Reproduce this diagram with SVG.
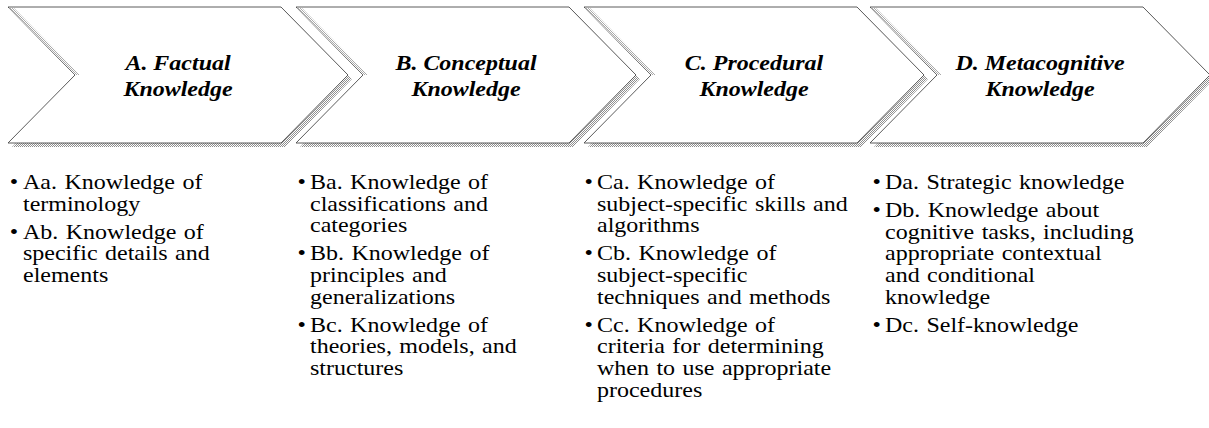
<svg xmlns="http://www.w3.org/2000/svg" width="1209" height="428" viewBox="0 0 1209 428">
<defs>
<pattern id="dither" width="2" height="2" patternUnits="userSpaceOnUse">
<rect width="2" height="2" fill="#ffffff"/>
<rect x="0" y="0" width="1" height="1" fill="#8e8e8e"/>
<rect x="1" y="1" width="1" height="1" fill="#8e8e8e"/>
</pattern>
<polygon id="chev" points="0,7 273,7 340,75 273,143 0,143 67,75"/>
<polygon id="band" points="1,8 67,75 72,75 6,8"/>
</defs>
<style>
.shadow{fill:url(#dither);}
.body{fill:#ffffff;stroke:#4a4a4a;stroke-width:0.9;}
.band{fill:url(#dither);opacity:0.75;}
.title{font-family:'Liberation Serif','Times New Roman',Times,serif;font-size:22px;font-weight:bold;font-style:italic;fill:#000;text-anchor:middle;}
.item{font-family:'Liberation Serif','Times New Roman',Times,serif;font-size:20px;fill:#000;word-spacing:1.2px;}
.bul{font-family:'Liberation Serif','Times New Roman',Times,serif;font-size:20px;fill:#000;text-anchor:middle;}
</style>
<g id="connectors"></g>
<g id="nodeA">
<use href="#chev" x="12" y="4" class="shadow"/>
<use href="#chev" x="8" y="0" class="body"/>
<use href="#band" x="8" y="0" class="band"/>
<g transform="translate(178,0) scale(1.09,1)">
<text class="title" x="0" y="70">A. Factual</text>
<text class="title" x="0" y="96">Knowledge</text>
</g>
</g>
<g id="nodeB">
<use href="#chev" x="300" y="4" class="shadow"/>
<use href="#chev" x="296" y="0" class="body"/>
<use href="#band" x="296" y="0" class="band"/>
<g transform="translate(466,0) scale(1.09,1)">
<text class="title" x="0" y="70">B. Conceptual</text>
<text class="title" x="0" y="96">Knowledge</text>
</g>
</g>
<g id="nodeC">
<use href="#chev" x="588" y="4" class="shadow"/>
<use href="#chev" x="584" y="0" class="body"/>
<use href="#band" x="584" y="0" class="band"/>
<g transform="translate(754,0) scale(1.09,1)">
<text class="title" x="0" y="70">C. Procedural</text>
<text class="title" x="0" y="96">Knowledge</text>
</g>
</g>
<g id="nodeD">
<use href="#chev" x="874" y="4" class="shadow"/>
<use href="#chev" x="870" y="0" class="body"/>
<use href="#band" x="870" y="0" class="band"/>
<g transform="translate(1040,0) scale(1.09,1)">
<text class="title" x="0" y="70">D. Metacognitive</text>
<text class="title" x="0" y="96">Knowledge</text>
</g>
</g>
<g id="listA" transform="translate(23,0) scale(1.2,1)">
<text class="bul" x="-7.5" y="189">•</text>
<text class="item" x="0" y="189">Aa. Knowledge of</text>
<text class="item" x="0" y="210.6">terminology</text>
<text class="bul" x="-7.5" y="238.8">•</text>
<text class="item" x="0" y="238.8">Ab. Knowledge of</text>
<text class="item" x="0" y="260.4">specific details and</text>
<text class="item" x="0" y="282">elements</text>
</g>
<g id="listB" transform="translate(310,0) scale(1.2,1)">
<text class="bul" x="-7" y="189">•</text>
<text class="item" x="0" y="189">Ba. Knowledge of</text>
<text class="item" x="0" y="210.6">classifications and</text>
<text class="item" x="0" y="232.2">categories</text>
<text class="bul" x="-7" y="260.4">•</text>
<text class="item" x="0" y="260.4">Bb. Knowledge of</text>
<text class="item" x="0" y="282">principles and</text>
<text class="item" x="0" y="303.6">generalizations</text>
<text class="bul" x="-7" y="331.8">•</text>
<text class="item" x="0" y="331.8">Bc. Knowledge of</text>
<text class="item" x="0" y="353.4">theories, models, and</text>
<text class="item" x="0" y="375">structures</text>
</g>
<g id="listC" transform="translate(597,0) scale(1.2,1)">
<text class="bul" x="-7" y="189">•</text>
<text class="item" x="0" y="189">Ca. Knowledge of</text>
<text class="item" x="0" y="210.6">subject-specific skills and</text>
<text class="item" x="0" y="232.2">algorithms</text>
<text class="bul" x="-7" y="260.4">•</text>
<text class="item" x="0" y="260.4">Cb. Knowledge of</text>
<text class="item" x="0" y="282">subject-specific</text>
<text class="item" x="0" y="303.6">techniques and methods</text>
<text class="bul" x="-7" y="331.8">•</text>
<text class="item" x="0" y="331.8">Cc. Knowledge of</text>
<text class="item" x="0" y="353.4">criteria for determining</text>
<text class="item" x="0" y="375">when to use appropriate</text>
<text class="item" x="0" y="396.6">procedures</text>
</g>
<g id="listD" transform="translate(885,0) scale(1.2,1)">
<text class="bul" x="-7" y="189">•</text>
<text class="item" x="0" y="189">Da. Strategic knowledge</text>
<text class="bul" x="-7" y="217.2">•</text>
<text class="item" x="0" y="217.2">Db. Knowledge about</text>
<text class="item" x="0" y="238.8">cognitive tasks, including</text>
<text class="item" x="0" y="260.4">appropriate contextual</text>
<text class="item" x="0" y="282">and conditional</text>
<text class="item" x="0" y="303.6">knowledge</text>
<text class="bul" x="-7" y="331.8">•</text>
<text class="item" x="0" y="331.8">Dc. Self-knowledge</text>
</g>
</svg>
